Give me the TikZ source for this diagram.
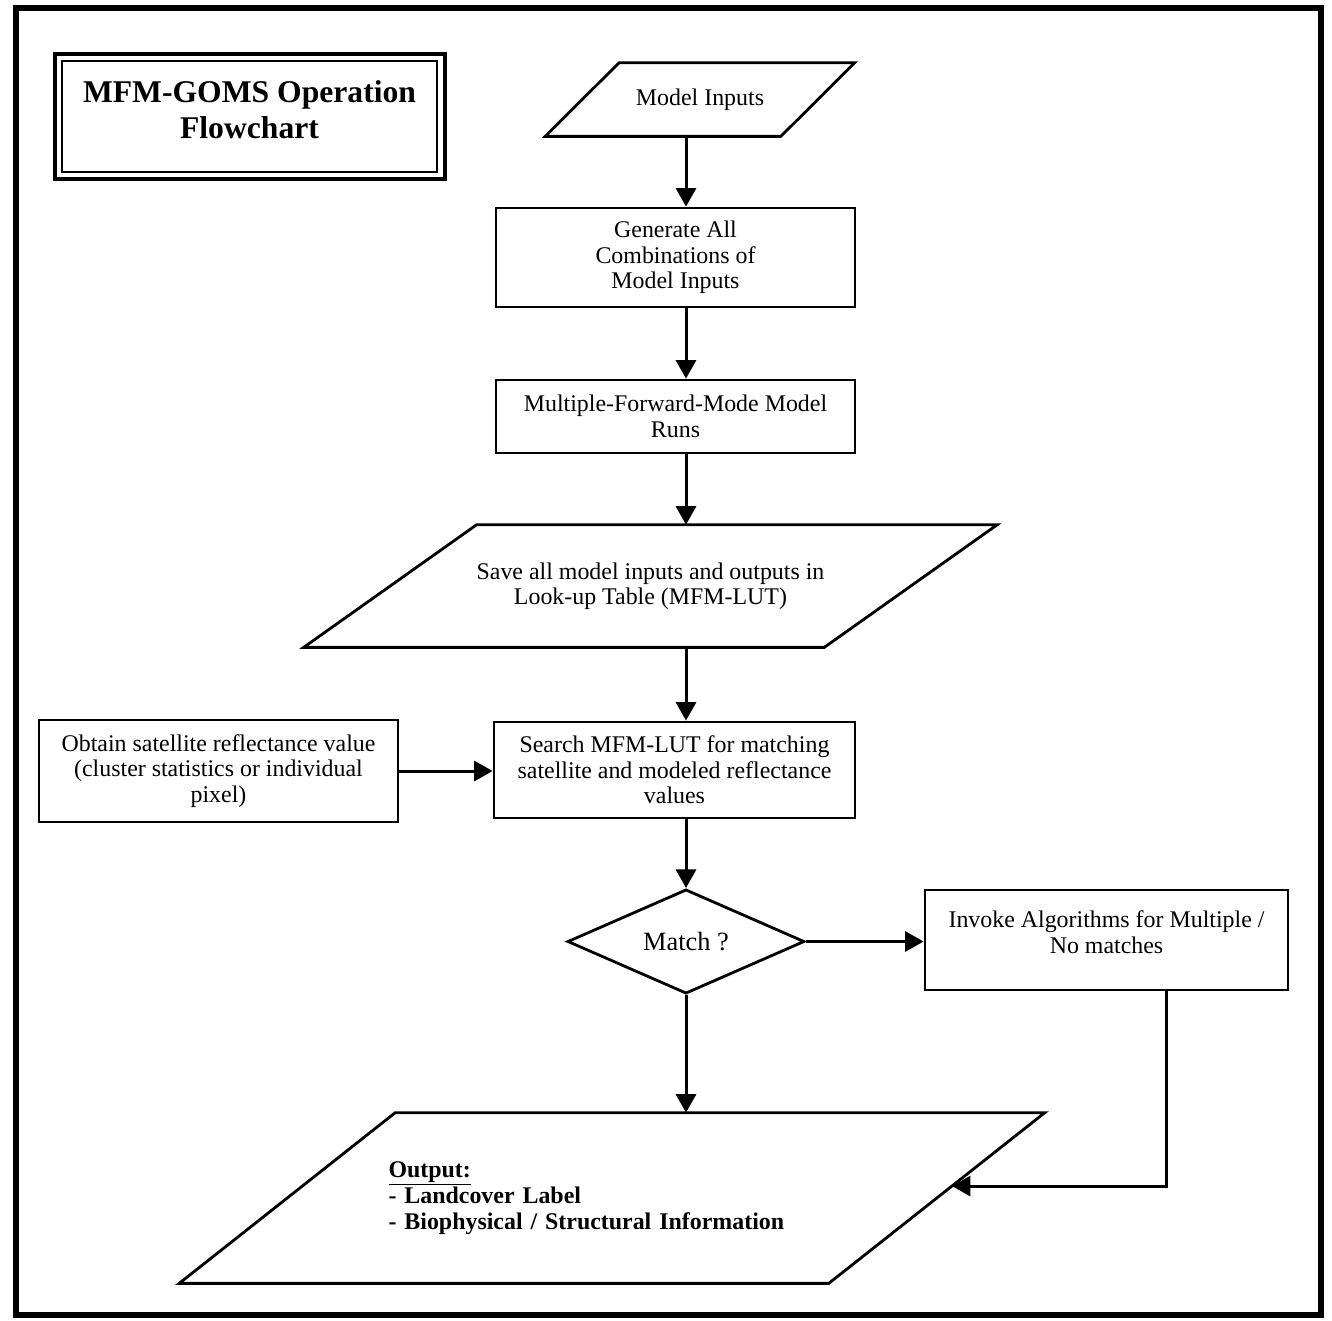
\documentclass[tikz,border=0pt]{standalone}
\usepackage{fontspec}
\setmainfont{Liberation Serif}
\usetikzlibrary{arrows.meta,calc}
\tikzset{
    procbox/.style={draw,line width=1.6pt,align=center,inner sep=2pt},
    iobox/.style={align=center,inner sep=0pt},
    ioline/.style={line width=1.6pt,line join=miter},
    decision/.style={diamond,draw,line width=1.6pt,inner sep=0pt},
    myarrow/.style={-{Triangle[length=0.37cm,width=0.4cm]},line width=1.7pt},
    myframe/.style={line width=3.5pt}
}
\usetikzlibrary{shapes.geometric}
\begin{document}
\begin{tikzpicture}[x=0.02cm,y=-0.02cm,font=\fontsize{13.6}{14.5}\selectfont]
\useasboundingbox (0,0) rectangle (1332,1320);
\draw[myframe] (16,8) rectangle (1321,1315);
% title
\node[draw,line width=0.9pt,minimum width=7.5cm,minimum height=2.22cm,align=center,font=\fontsize{18}{21}\selectfont\bfseries] (title) at (249.5,116.5) {MFM-GOMS Operation\\Flowchart\\[-0.46cm]};
\draw[line width=2.2pt] ([shift={(-6,-6)}]title.north west) rectangle ([shift={(7,6)}]title.south east);
% chart
\node[iobox,minimum width=4.7cm,minimum height=1.46cm] (inputs) at (700,99.5) {Model Inputs};
\draw[ioline] ([shift={(37,0)}]inputs.north west) -- ([shift={(37,0)}]inputs.north east)
  -- ([shift={(-37,0)}]inputs.south east) -- ([shift={(-37,0)}]inputs.south west) -- cycle;
\node[procbox,minimum width=7.18cm,minimum height=1.98cm] (gen) at (675.5,257.5) {Generate All\\Combinations of\\Model Inputs};
\node[procbox,minimum width=7.18cm,minimum height=1.46cm] (runs) at (675.5,416.5) {Multiple-Forward-Mode Model\\Runs};
\node[iobox,minimum width=10.4cm,minimum height=2.44cm] (save) at (650.5,586) {Save all model inputs and outputs in\\Look-up Table (MFM-LUT)};
\draw[ioline] ([shift={(86.5,0)}]save.north west) -- ([shift={(86.5,0)}]save.north east)
  -- ([shift={(-86.5,0)}]save.south east) -- ([shift={(-86.5,0)}]save.south west) -- cycle;
\node[procbox,minimum width=7.22cm,minimum height=1.92cm] (search) at (674.5,770) {Search MFM-LUT for matching\\satellite and modeled reflectance\\values};
\node[procbox,minimum width=7.18cm,minimum height=2.04cm] (obtain) at (218.5,771) {Obtain satellite reflectance value\\(cluster statistics or individual\\pixel)};
\node[decision,minimum width=4.74cm,minimum height=1.94cm,font=\fontsize{15}{16}\selectfont] (match) at (686,941.5) {Match ?};
\node[procbox,minimum width=7.26cm,minimum height=2cm] (invoke) at (1106.5,940) {Invoke Algorithms for Multiple /\\No matches\\[-0.19cm]};
\node[iobox,align=left,inner xsep=2.02cm,text width=8.94cm,minimum height=3.4cm,font=\fontsize{13.6}{15}\selectfont\bfseries] (output) at (612,1198) {\underline{Output:}\\- Landcover Label\\- Biophysical / Structural Information};
\draw[ioline] ([shift={(108,0)}]output.north west) -- ([shift={(108,0)}]output.north east) coordinate (outtr)
  -- ([shift={(-108,0)}]output.south east) coordinate (outbr) -- ([shift={(-108,0)}]output.south west) -- cycle;
\coordinate (fb) at (1166,1186);
% connectors
\draw[myarrow] (inputs.south -| match.center) -- (gen.north -| match.center);
\draw[myarrow] (gen.south -| match.center) -- (runs.north -| match.center);
\draw[myarrow] (runs.south -| match.center) -- (save.north -| match.center);
\draw[myarrow] (save.south -| match.center) -- (search.north -| match.center);
\draw[myarrow] (obtain.east) -- (obtain.east -| search.west);
\draw[myarrow] (search.south -| match.center) -- (match.north);
\draw[myarrow] (match.east) -- (match.east -| invoke.west);
\draw[myarrow] (match.south) -- (output.north -| match.center);
\draw[myarrow] (invoke.south -| fb) |- ($(outtr)!0.43!(outbr)$);
\end{tikzpicture}
\end{document}
